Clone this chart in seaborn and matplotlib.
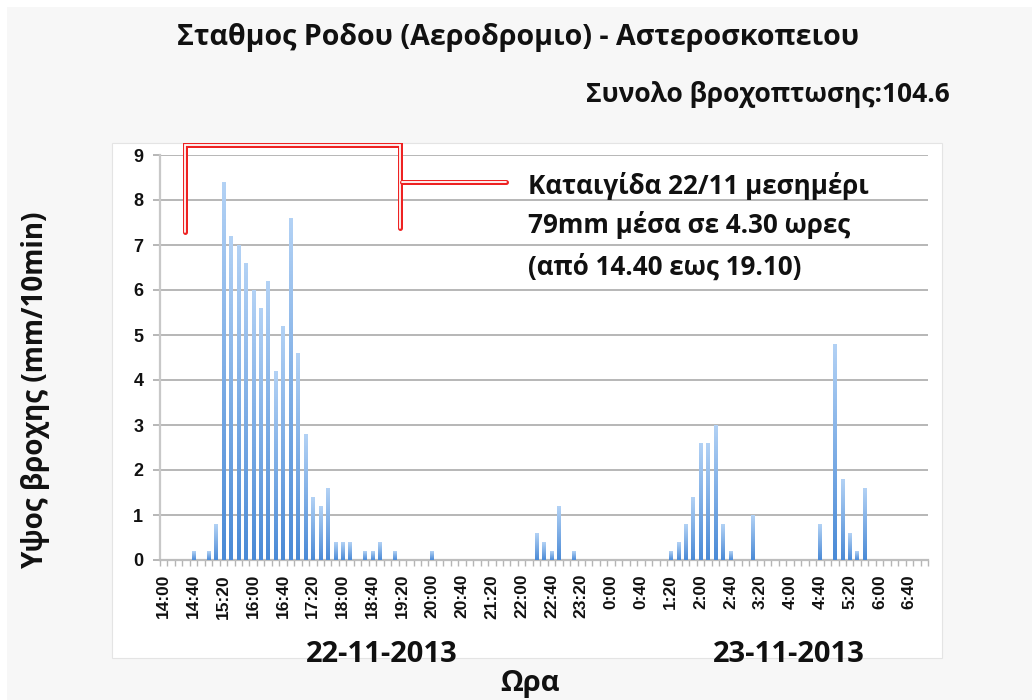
import matplotlib.pyplot as plt
import matplotlib.patheffects as pe
import numpy as np
import pandas as pd
import seaborn as sns
from matplotlib.colors import LinearSegmentedColormap
from matplotlib.patches import Rectangle

# 10-minute slots, 22/11 14:00 -> 23/11 07:00
slots = pd.date_range('2013-11-22 14:00', '2013-11-23 07:00', freq='10min')
slot_labels = [f'{t.hour}:{t.minute:02d}' for t in slots]

# slots with rain (mm / 10min), every other slot is 0
rain_times = ['14:40', '15:00', '15:10', '15:20', '15:30', '15:40', '15:50',
              '16:00', '16:10', '16:20', '16:30', '16:40', '16:50', '17:00',
              '17:10', '17:20', '17:30', '17:40', '17:50', '18:00', '18:10',
              '18:30', '18:40', '18:50', '19:10', '20:00', '22:20', '22:30',
              '22:40', '22:50', '23:10',
              '1:20', '1:30', '1:40', '1:50', '2:00', '2:10', '2:20', '2:30',
              '2:40', '3:10', '4:40', '5:00', '5:10', '5:20', '5:30', '5:40']
rain_mm = [0.2, 0.2, 0.8, 8.4, 7.2, 7.0, 6.6,
           6.0, 5.6, 6.2, 4.2, 5.2, 7.6, 4.6,
           2.8, 1.4, 1.2, 1.6, 0.4, 0.4, 0.4,
           0.2, 0.2, 0.4, 0.2, 0.2, 0.6, 0.4,
           0.2, 1.2, 0.2,
           0.2, 0.4, 0.8, 1.4, 2.6, 2.6, 3.0, 0.8,
           0.2, 1.0, 0.8, 4.8, 1.8, 0.6, 0.2, 1.6]

df = pd.DataFrame({'time': slot_labels})
df['mm'] = df['time'].map(dict(zip(rain_times, rain_mm))).fillna(0.0)

title = 'Σταθμος Ροδου (Αεροδρομιο) - Αστεροσκοπειου'
subtitle = 'Συνολο βροχοπτωσης:104.6'
note_lines = ['Καταιγίδα 22/11 μεσημέρι', '79mm μέσα σε 4.30 ωρες', '(από 14.40 εως 19.10)']
day_labels = ['22-11-2013', '23-11-2013']

sns.set_theme(style='white')
plt.rcParams['font.family'] = ['Open Sans', 'DejaVu Sans']

fig = plt.figure(figsize=(10.32, 7), dpi=100, facecolor='#f7f7f7')
# white slide border + white chart panel
fig.patches.append(Rectangle((0, 0), 7 / 1032, 1, transform=fig.transFigure,
                             facecolor='white', edgecolor='none', zorder=-2))
fig.patches.append(Rectangle((0, 1 - 7 / 700), 1, 7 / 700, transform=fig.transFigure,
                             facecolor='white', edgecolor='none', zorder=-2))
fig.patches.append(Rectangle((112 / 1032, 1 - 658 / 700), 830 / 1032, 515 / 700,
                             transform=fig.transFigure, facecolor='white',
                             edgecolor='#e4e4e4', lw=0.8, zorder=-1))

ax = fig.add_axes([160 / 1032, 1 - 560 / 700, 768 / 1032, 405 / 700])
ax.set_facecolor('none')

sns.barplot(data=df, x='time', y='mm', order=slot_labels, color='#6fa3e2',
            width=0.45, ax=ax)

# vertical gradient on every bar, light on top
cmap = LinearSegmentedColormap.from_list('bar', ['#4a8ad6', '#b3d2f5'])
grad = np.linspace(1, 0, 256)[:, None]
for p in list(ax.patches):
    h = p.get_height()
    if h <= 0:
        continue
    x0 = p.get_x()
    im = ax.imshow(grad, extent=[x0, x0 + p.get_width(), 0, h], aspect='auto',
                   cmap=cmap, zorder=3, interpolation='bilinear')
    im.set_clip_path(p)
    p.set_alpha(0)

n = len(slot_labels)
ax.set_xlim(-0.5, n - 0.5)
ax.set_ylim(0, 9)
ax.set_yticks(range(10))
ax.yaxis.grid(True, color='#a3a3a3', lw=1.1)
ax.set_axisbelow(True)

ax.set_xticks(range(0, n, 4))
ax.set_xticklabels(slot_labels[::4], rotation=90, fontsize=12.5, fontweight='bold',
                   family=['Liberation Sans', 'DejaVu Sans'], color='#111111')
ax.set_xticks(np.arange(-0.5, n, 1), minor=True)
ax.tick_params(axis='x', which='major', length=0, pad=10)
ax.tick_params(axis='x', which='minor', length=4, width=1, color='#b5b5b5', bottom=True)
ax.tick_params(axis='y', length=5, width=1.1, color='#a3a3a3', pad=7, left=True)
for t in ax.get_yticklabels():
    t.set_fontsize(13)
    t.set_fontweight('bold')
    t.set_family(['Liberation Sans', 'DejaVu Sans'])
    t.set_color('#111111')

for s in ['top', 'right']:
    ax.spines[s].set_visible(False)
ax.spines['left'].set_color('#c8c8c8')
ax.spines['left'].set_linewidth(1.6)
ax.spines['bottom'].set_color('#bdbdbd')
ax.spines['bottom'].set_linewidth(1.6)

ax.set_ylabel('Υψος βροχης (mm/10min)', fontsize=20, fontweight='bold', color='#111111')
ax.yaxis.set_label_coords(-0.143, 0.42)
ax.set_xlabel('Ωρα', fontsize=21, fontweight='bold', color='#111111')
ax.xaxis.set_label_coords(0.4816, -0.304)
ax.xaxis.label.set_va('center')

# red bracket around the storm
red_fx = [pe.Stroke(linewidth=3.6, foreground='#ee2222'), pe.Normal()]
ax.plot([2.8, 2.8, 31.7, 31.7], [7.29, 9.22, 9.22, 7.38], color='white', lw=1.3,
        clip_on=False, zorder=5, solid_joinstyle='miter', path_effects=red_fx)
ax.plot([31.9, 45.9], [8.4, 8.4], color='white', lw=1.3, clip_on=False, zorder=5,
        path_effects=red_fx)

for line, yv in zip(note_lines, [8.31, 7.44, 6.51]):
    ax.text(48.8, yv, line, ha='left', va='center', fontsize=18.7,
            fontweight='bold', color='#111111', zorder=6)

fig.text(518 / 1032, 1 - 38 / 700, title, ha='center', va='center', fontsize=20.6,
         fontweight='bold', color='#111111')
fig.text(950 / 1032, 1 - 95 / 700, subtitle, ha='right', va='center', fontsize=19,
         fontweight='bold', color='#111111')
for lab, xc in zip(day_labels, [382, 789]):
    fig.text(xc / 1032, 1 - 655 / 700, lab, ha='center', va='center', fontsize=21,
             fontweight='bold', color='#111111')

fig.savefig('out.png', dpi=100, facecolor=fig.get_facecolor())
